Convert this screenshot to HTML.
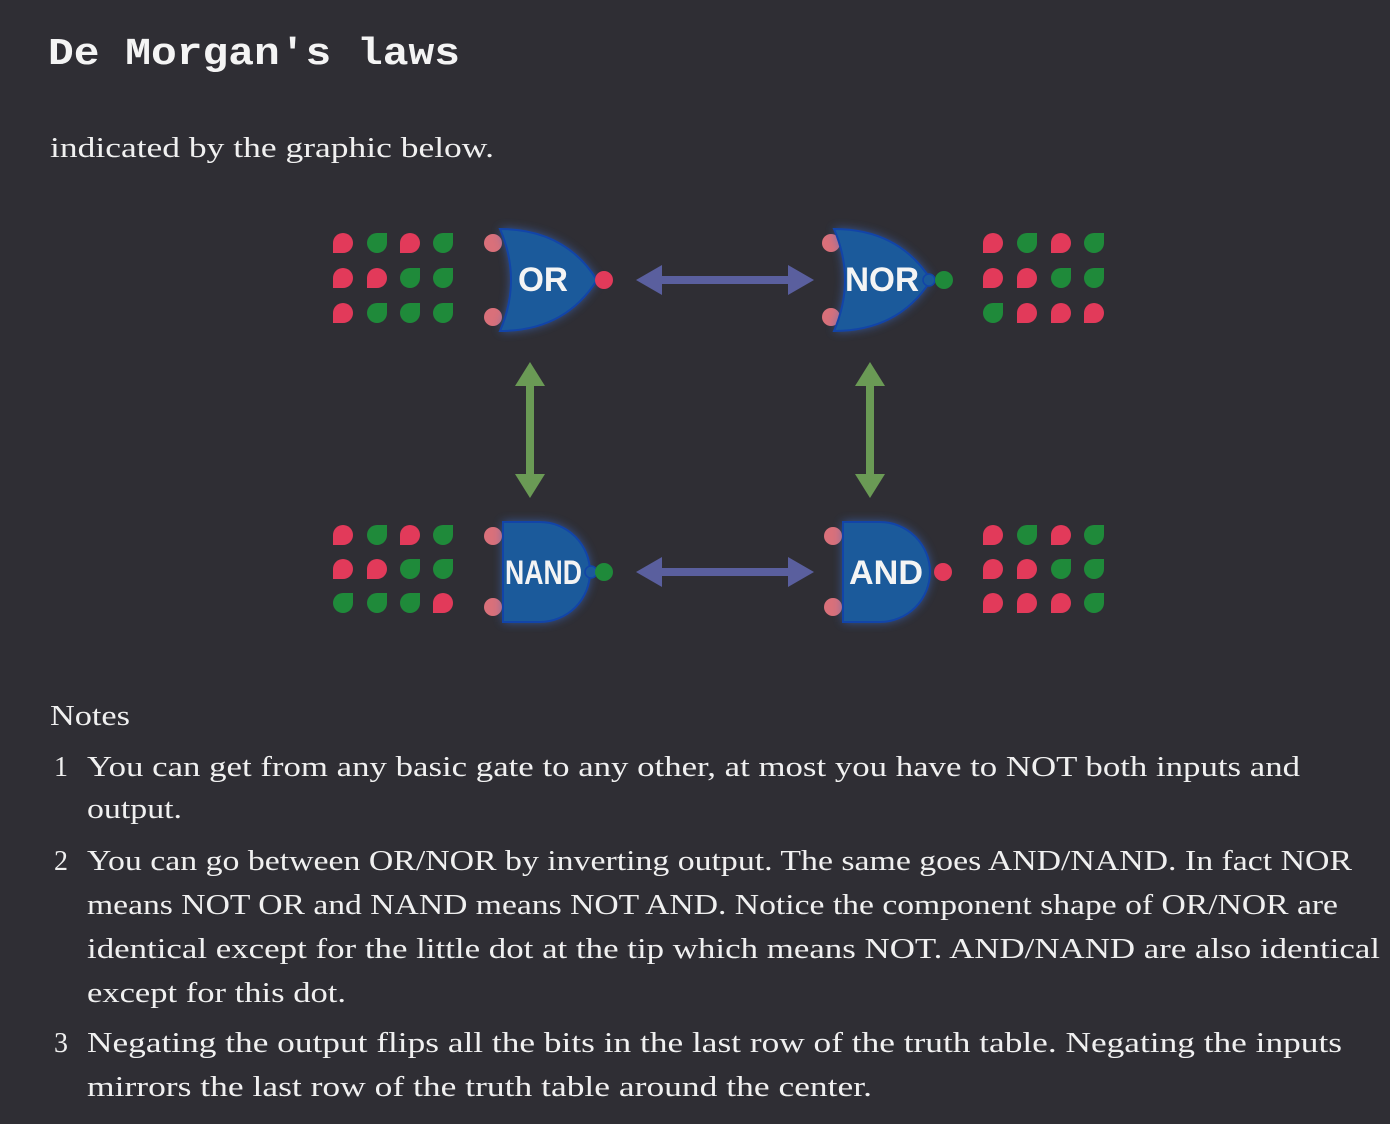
<!DOCTYPE html>
<html><head><meta charset="utf-8"><style>
html,body{margin:0;padding:0;background:#2f2e34;}
svg{display:block}
.t{font-family:"Liberation Serif",serif;font-size:28px;fill:#f0f0f0}
.g{font-family:"Liberation Sans",sans-serif;font-size:34px;fill:#f4f4f4;font-weight:bold}
</style></head><body>
<svg width="1390" height="1124" viewBox="0 0 1390 1124" xmlns="http://www.w3.org/2000/svg">
<defs>
<path id="r" d="M-10,10 L-10,0 A10,10 0 1 1 0,10 Z" fill="#e23a5a"/>
<path id="gr" d="M10,-10 L10,0 A10,10 0 1 1 0,-10 Z" fill="#1f8a3a"/>
<filter id="glow" x="-30%" y="-30%" width="160%" height="160%"><feGaussianBlur stdDeviation="5"/></filter>
</defs>
<rect width="1390" height="1124" fill="#2f2e34"/>
<text x="48" y="64" font-family="Liberation Mono,monospace" font-size="38" font-weight="bold" fill="#f4f4f4" textLength="412" lengthAdjust="spacingAndGlyphs">De Morgan's laws</text>
<text class="t" x="50" y="157" textLength="444" lengthAdjust="spacingAndGlyphs">indicated by the graphic below.</text>

<g>
<use href="#r" x="343" y="243"/><use href="#gr" x="377" y="243"/><use href="#r" x="410" y="243"/><use href="#gr" x="443" y="243"/>
<use href="#r" x="343" y="278"/><use href="#r" x="377" y="278"/><use href="#gr" x="410" y="278"/><use href="#gr" x="443" y="278"/>
<use href="#r" x="343" y="313"/><use href="#gr" x="377" y="313"/><use href="#gr" x="410" y="313"/><use href="#gr" x="443" y="313"/>

<use href="#r" x="993" y="243"/><use href="#gr" x="1027" y="243"/><use href="#r" x="1061" y="243"/><use href="#gr" x="1094" y="243"/>
<use href="#r" x="993" y="278"/><use href="#r" x="1027" y="278"/><use href="#gr" x="1061" y="278"/><use href="#gr" x="1094" y="278"/>
<use href="#gr" x="993" y="313"/><use href="#r" x="1027" y="313"/><use href="#r" x="1061" y="313"/><use href="#r" x="1094" y="313"/>

<use href="#r" x="343" y="535"/><use href="#gr" x="377" y="535"/><use href="#r" x="410" y="535"/><use href="#gr" x="443" y="535"/>
<use href="#r" x="343" y="569"/><use href="#r" x="377" y="569"/><use href="#gr" x="410" y="569"/><use href="#gr" x="443" y="569"/>
<use href="#gr" x="343" y="603"/><use href="#gr" x="377" y="603"/><use href="#gr" x="410" y="603"/><use href="#r" x="443" y="603"/>

<use href="#r" x="993" y="535"/><use href="#gr" x="1027" y="535"/><use href="#r" x="1061" y="535"/><use href="#gr" x="1094" y="535"/>
<use href="#r" x="993" y="569"/><use href="#r" x="1027" y="569"/><use href="#gr" x="1061" y="569"/><use href="#gr" x="1094" y="569"/>
<use href="#r" x="993" y="603"/><use href="#r" x="1027" y="603"/><use href="#r" x="1061" y="603"/><use href="#gr" x="1094" y="603"/>
</g>

<g fill="#d9707a">
<circle cx="493" cy="243" r="9"/><circle cx="493" cy="317" r="9"/>
<circle cx="831" cy="243" r="9"/><circle cx="831" cy="317" r="9"/>
<circle cx="493" cy="536" r="9"/><circle cx="493" cy="607" r="9"/>
<circle cx="833" cy="536" r="9"/><circle cx="833" cy="607" r="9"/>
</g>

<g>
<path d="M500,229 Q565,229 597,280 Q565,331 500,331 Q522,280 500,229 Z" fill="#3a70d0" filter="url(#glow)" opacity="0.7"/>
<path d="M500,229 Q565,229 597,280 Q565,331 500,331 Q522,280 500,229 Z" fill="#1b5a9b" stroke="#1244a8" stroke-width="2"/>
<path d="M834,229 Q899,229 931,280 Q899,331 834,331 Q856,280 834,229 Z" fill="#3a70d0" filter="url(#glow)" opacity="0.7"/>
<path d="M834,229 Q899,229 931,280 Q899,331 834,331 Q856,280 834,229 Z" fill="#1b5a9b" stroke="#1244a8" stroke-width="2"/>
<path d="M503,522 L540,522 A50,50 0 0 1 540,622 L503,622 Z" fill="#3a70d0" filter="url(#glow)" opacity="0.7"/>
<path d="M503,522 L540,522 A50,50 0 0 1 540,622 L503,622 Z" fill="#1b5a9b" stroke="#1244a8" stroke-width="2"/>
<path d="M843,522 L880,522 A50,50 0 0 1 880,622 L843,622 Z" fill="#3a70d0" filter="url(#glow)" opacity="0.7"/>
<path d="M843,522 L880,522 A50,50 0 0 1 880,622 L843,622 Z" fill="#1b5a9b" stroke="#1244a8" stroke-width="2"/>
</g>
<text class="g" x="518" y="291" textLength="50" lengthAdjust="spacingAndGlyphs">OR</text>
<text class="g" x="845" y="291" textLength="74" lengthAdjust="spacingAndGlyphs">NOR</text>
<text class="g" x="505" y="584" textLength="77" lengthAdjust="spacingAndGlyphs">NAND</text>
<text class="g" x="849" y="584" textLength="74" lengthAdjust="spacingAndGlyphs">AND</text>

<circle cx="604" cy="280" r="9" fill="#e23a5a"/>
<circle cx="929" cy="280" r="6" fill="#1b5a9b" stroke="#1244a8" stroke-width="1.5"/>
<circle cx="944" cy="280" r="9" fill="#1f8a3a"/>
<circle cx="591" cy="572" r="6" fill="#1b5a9b" stroke="#1244a8" stroke-width="1.5"/>
<circle cx="604" cy="572" r="9" fill="#1f8a3a"/>
<circle cx="943" cy="572" r="9" fill="#e23a5a"/>

<g fill="#5a5f9e">
<rect x="660" y="276" width="130" height="8"/>
<path d="M636,280 L662,265 L662,295 Z"/><path d="M814,280 L788,265 L788,295 Z"/>
<rect x="660" y="568" width="130" height="8"/>
<path d="M636,572 L662,557 L662,587 Z"/><path d="M814,572 L788,557 L788,587 Z"/>
</g>
<g fill="#6a9a55">
<rect x="526" y="384" width="8" height="92"/>
<path d="M530,362 L515,386 L545,386 Z"/><path d="M530,498 L515,474 L545,474 Z"/>
<rect x="866" y="384" width="8" height="92"/>
<path d="M870,362 L855,386 L885,386 Z"/><path d="M870,498 L855,474 L885,474 Z"/>
</g>

<text class="t" x="50" y="725" textLength="80" lengthAdjust="spacingAndGlyphs">Notes</text>
<text class="t" x="54" y="776">1</text>
<text class="t" x="87" y="776" textLength="1213" lengthAdjust="spacingAndGlyphs">You can get from any basic gate to any other, at most you have to NOT both inputs and</text>
<text class="t" x="87" y="818" textLength="95" lengthAdjust="spacingAndGlyphs">output.</text>
<text class="t" x="54" y="870">2</text>
<text class="t" x="87" y="870" textLength="1265" lengthAdjust="spacingAndGlyphs">You can go between OR/NOR by inverting output. The same goes AND/NAND. In fact NOR</text>
<text class="t" x="87" y="914" textLength="1251" lengthAdjust="spacingAndGlyphs">means NOT OR and NAND means NOT AND. Notice the component shape of OR/NOR are</text>
<text class="t" x="87" y="958" textLength="1293" lengthAdjust="spacingAndGlyphs">identical except for the little dot at the tip which means NOT. AND/NAND are also identical</text>
<text class="t" x="87" y="1002" textLength="259" lengthAdjust="spacingAndGlyphs">except for this dot.</text>
<text class="t" x="54" y="1052">3</text>
<text class="t" x="87" y="1052" textLength="1255" lengthAdjust="spacingAndGlyphs">Negating the output flips all the bits in the last row of the truth table. Negating the inputs</text>
<text class="t" x="87" y="1096" textLength="785" lengthAdjust="spacingAndGlyphs">mirrors the last row of the truth table around the center.</text>
</svg>
</body></html>
